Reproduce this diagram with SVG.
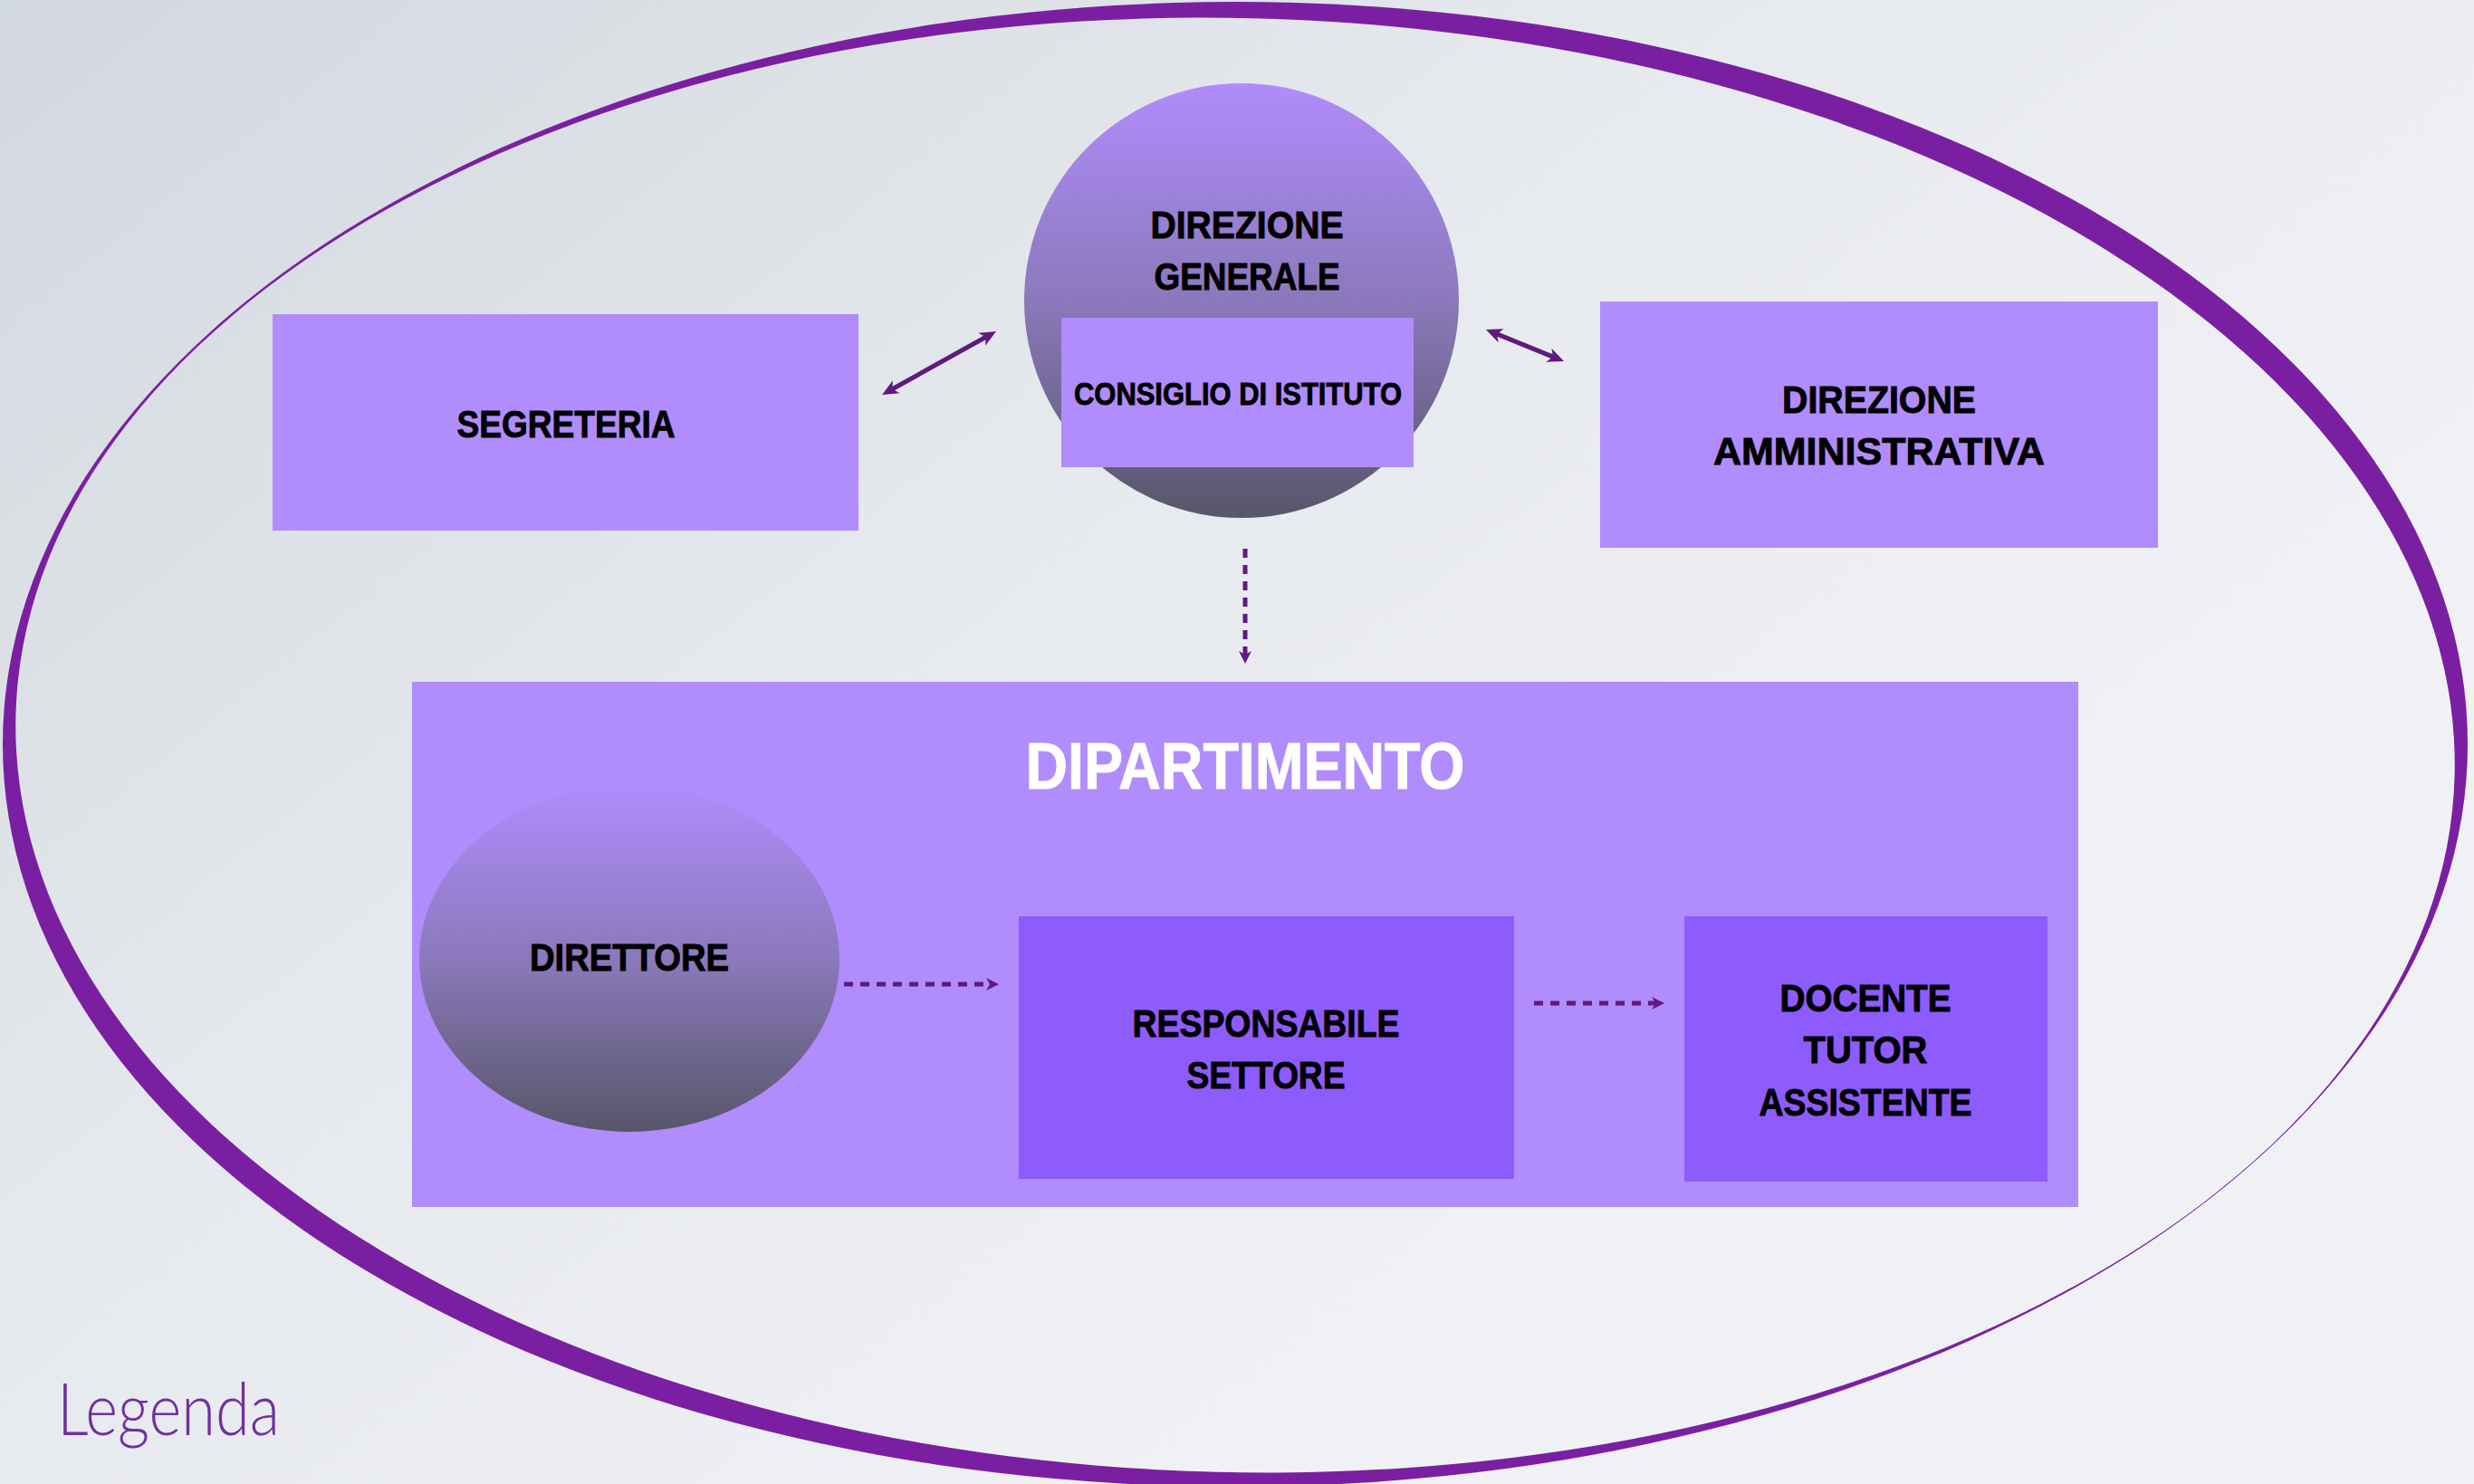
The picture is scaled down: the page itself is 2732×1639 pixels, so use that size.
<svg xmlns="http://www.w3.org/2000/svg" width="2732" height="1639" viewBox="0 0 2732 1639">
  <defs>
    <linearGradient id="bg" gradientUnits="userSpaceOnUse" x1="0" y1="0" x2="1300" y2="1639">
      <stop offset="0" stop-color="#d2d8df"/>
      <stop offset="0.55" stop-color="#e6e9ed"/>
      <stop offset="1" stop-color="#f0f1f5"/>
    </linearGradient>
    <linearGradient id="orb" x1="0" y1="0" x2="0" y2="1">
      <stop offset="0" stop-color="#b08cfc"/>
      <stop offset="0.5" stop-color="#8b79bb"/>
      <stop offset="1" stop-color="#57566a"/>
    </linearGradient>
    <mask id="ringMask" maskUnits="userSpaceOnUse" x="0" y="0" width="2732" height="1639">
      <rect x="0" y="0" width="2732" height="1639" fill="#fff"/>
      <ellipse cx="1364" cy="823" rx="1347" ry="803" fill="#000" transform="rotate(1.4 1364 823)"/>
    </mask>
    <marker id="headSolid" markerUnits="userSpaceOnUse" markerWidth="20" markerHeight="18" refX="5" refY="8" orient="auto-start-reverse" overflow="visible">
      <path d="M0,0 L18,8 L0,16 L5,8 z" fill="#5f1a7e"/>
    </marker>
    <marker id="headDash" markerUnits="userSpaceOnUse" markerWidth="16" markerHeight="16" refX="4" refY="7" orient="auto" overflow="visible">
      <path d="M0,0 L14,7 L0,14 L4,7 z" fill="#5f1a7e"/>
    </marker>
    <style>
      .box { fill: #b08cfd; }
      .inner { fill: #8e5bfd; }
      .lbl { font-family: "Liberation Sans Narrow", "Liberation Sans", Arial, sans-serif; font-weight: bold; fill: #000; stroke: #000; stroke-width: 0.9; text-anchor: middle; }
      .solid { stroke: #5f1a7e; stroke-width: 5; fill: none; marker-start: url(#headSolid); marker-end: url(#headSolid); }
      .dash { stroke: #5f1a7e; stroke-width: 5; fill: none; stroke-dasharray: 10 8; marker-end: url(#headDash); }
    </style>
  </defs>

  <rect x="0" y="0" width="2732" height="1639" fill="url(#bg)"/>

  <g id="boundary">
    <ellipse cx="1364" cy="822" rx="1361" ry="820" fill="#7a1fa2" mask="url(#ringMask)"/>
  </g>

  <g id="segreteria">
    <rect class="box" x="301" y="347" width="647" height="239"/>
    <text class="lbl" x="625" y="483" font-size="43" textLength="241" lengthAdjust="spacingAndGlyphs">SEGRETERIA</text>
  </g>

  <g id="direzione-generale">
    <circle cx="1371" cy="332" r="240" fill="url(#orb)"/>
    <text class="lbl" x="1377" y="263" font-size="42" textLength="213" lengthAdjust="spacingAndGlyphs">DIREZIONE</text>
    <text class="lbl" x="1377" y="320" font-size="42" textLength="205" lengthAdjust="spacingAndGlyphs">GENERALE</text>
  </g>

  <g id="consiglio-di-istituto">
    <rect class="box" x="1172" y="351" width="389" height="165"/>
    <text class="lbl" x="1367" y="447" font-size="35" textLength="362" lengthAdjust="spacingAndGlyphs">CONSIGLIO DI ISTITUTO</text>
  </g>

  <g id="direzione-amministrativa">
    <rect class="box" x="1767" y="333" width="616" height="272"/>
    <text class="lbl" x="2075" y="456" font-size="43" textLength="214" lengthAdjust="spacingAndGlyphs">DIREZIONE</text>
    <text class="lbl" x="2075" y="513" font-size="43" textLength="366" lengthAdjust="spacingAndGlyphs">AMMINISTRATIVA</text>
  </g>

  <g id="dipartimento">
    <rect class="box" x="455" y="753" width="1840" height="580"/>
    <text x="1375" y="871" font-family="Liberation Sans Narrow, Liberation Sans, Arial, sans-serif" font-weight="bold" font-size="73" fill="#ffffff" stroke="#ffffff" stroke-width="1" text-anchor="middle" textLength="485" lengthAdjust="spacingAndGlyphs">DIPARTIMENTO</text>
  </g>

  <g id="direttore">
    <ellipse cx="695" cy="1059" rx="232" ry="191" fill="url(#orb)"/>
    <text class="lbl" x="695" y="1072" font-size="43" textLength="220" lengthAdjust="spacingAndGlyphs">DIRETTORE</text>
  </g>

  <g id="responsabile-settore">
    <rect class="inner" x="1125" y="1012" width="547" height="290"/>
    <text class="lbl" x="1398" y="1145" font-size="43" textLength="295" lengthAdjust="spacingAndGlyphs">RESPONSABILE</text>
    <text class="lbl" x="1398" y="1202" font-size="43" textLength="175" lengthAdjust="spacingAndGlyphs">SETTORE</text>
  </g>

  <g id="docente-tutor-assistente">
    <rect class="inner" x="1860" y="1012" width="401" height="293"/>
    <text class="lbl" x="2060" y="1117" font-size="43" textLength="189" lengthAdjust="spacingAndGlyphs">DOCENTE</text>
    <text class="lbl" x="2060" y="1174" font-size="43" textLength="137" lengthAdjust="spacingAndGlyphs">TUTOR</text>
    <text class="lbl" x="2060" y="1232" font-size="43" textLength="235" lengthAdjust="spacingAndGlyphs">ASSISTENTE</text>
  </g>

  <g id="connectors">
    <line class="solid" x1="985.4" y1="429.7" x2="1088.6" y2="372.3"/>
    <line class="solid" x1="1653" y1="368.9" x2="1715" y2="394.1"/>
    <line class="dash" x1="1375" y1="606" x2="1375" y2="723"/>
    <line class="dash" x1="932" y1="1087" x2="1093" y2="1087"/>
    <line class="dash" x1="1694" y1="1108" x2="1828" y2="1108"/>
  </g>

  <g id="legend">
    <text x="63" y="1585" font-family="Lato, 'Open Sans', sans-serif" font-weight="300" font-size="80" fill="#7030a0" textLength="246" lengthAdjust="spacingAndGlyphs">Legenda</text>
  </g>
</svg>
